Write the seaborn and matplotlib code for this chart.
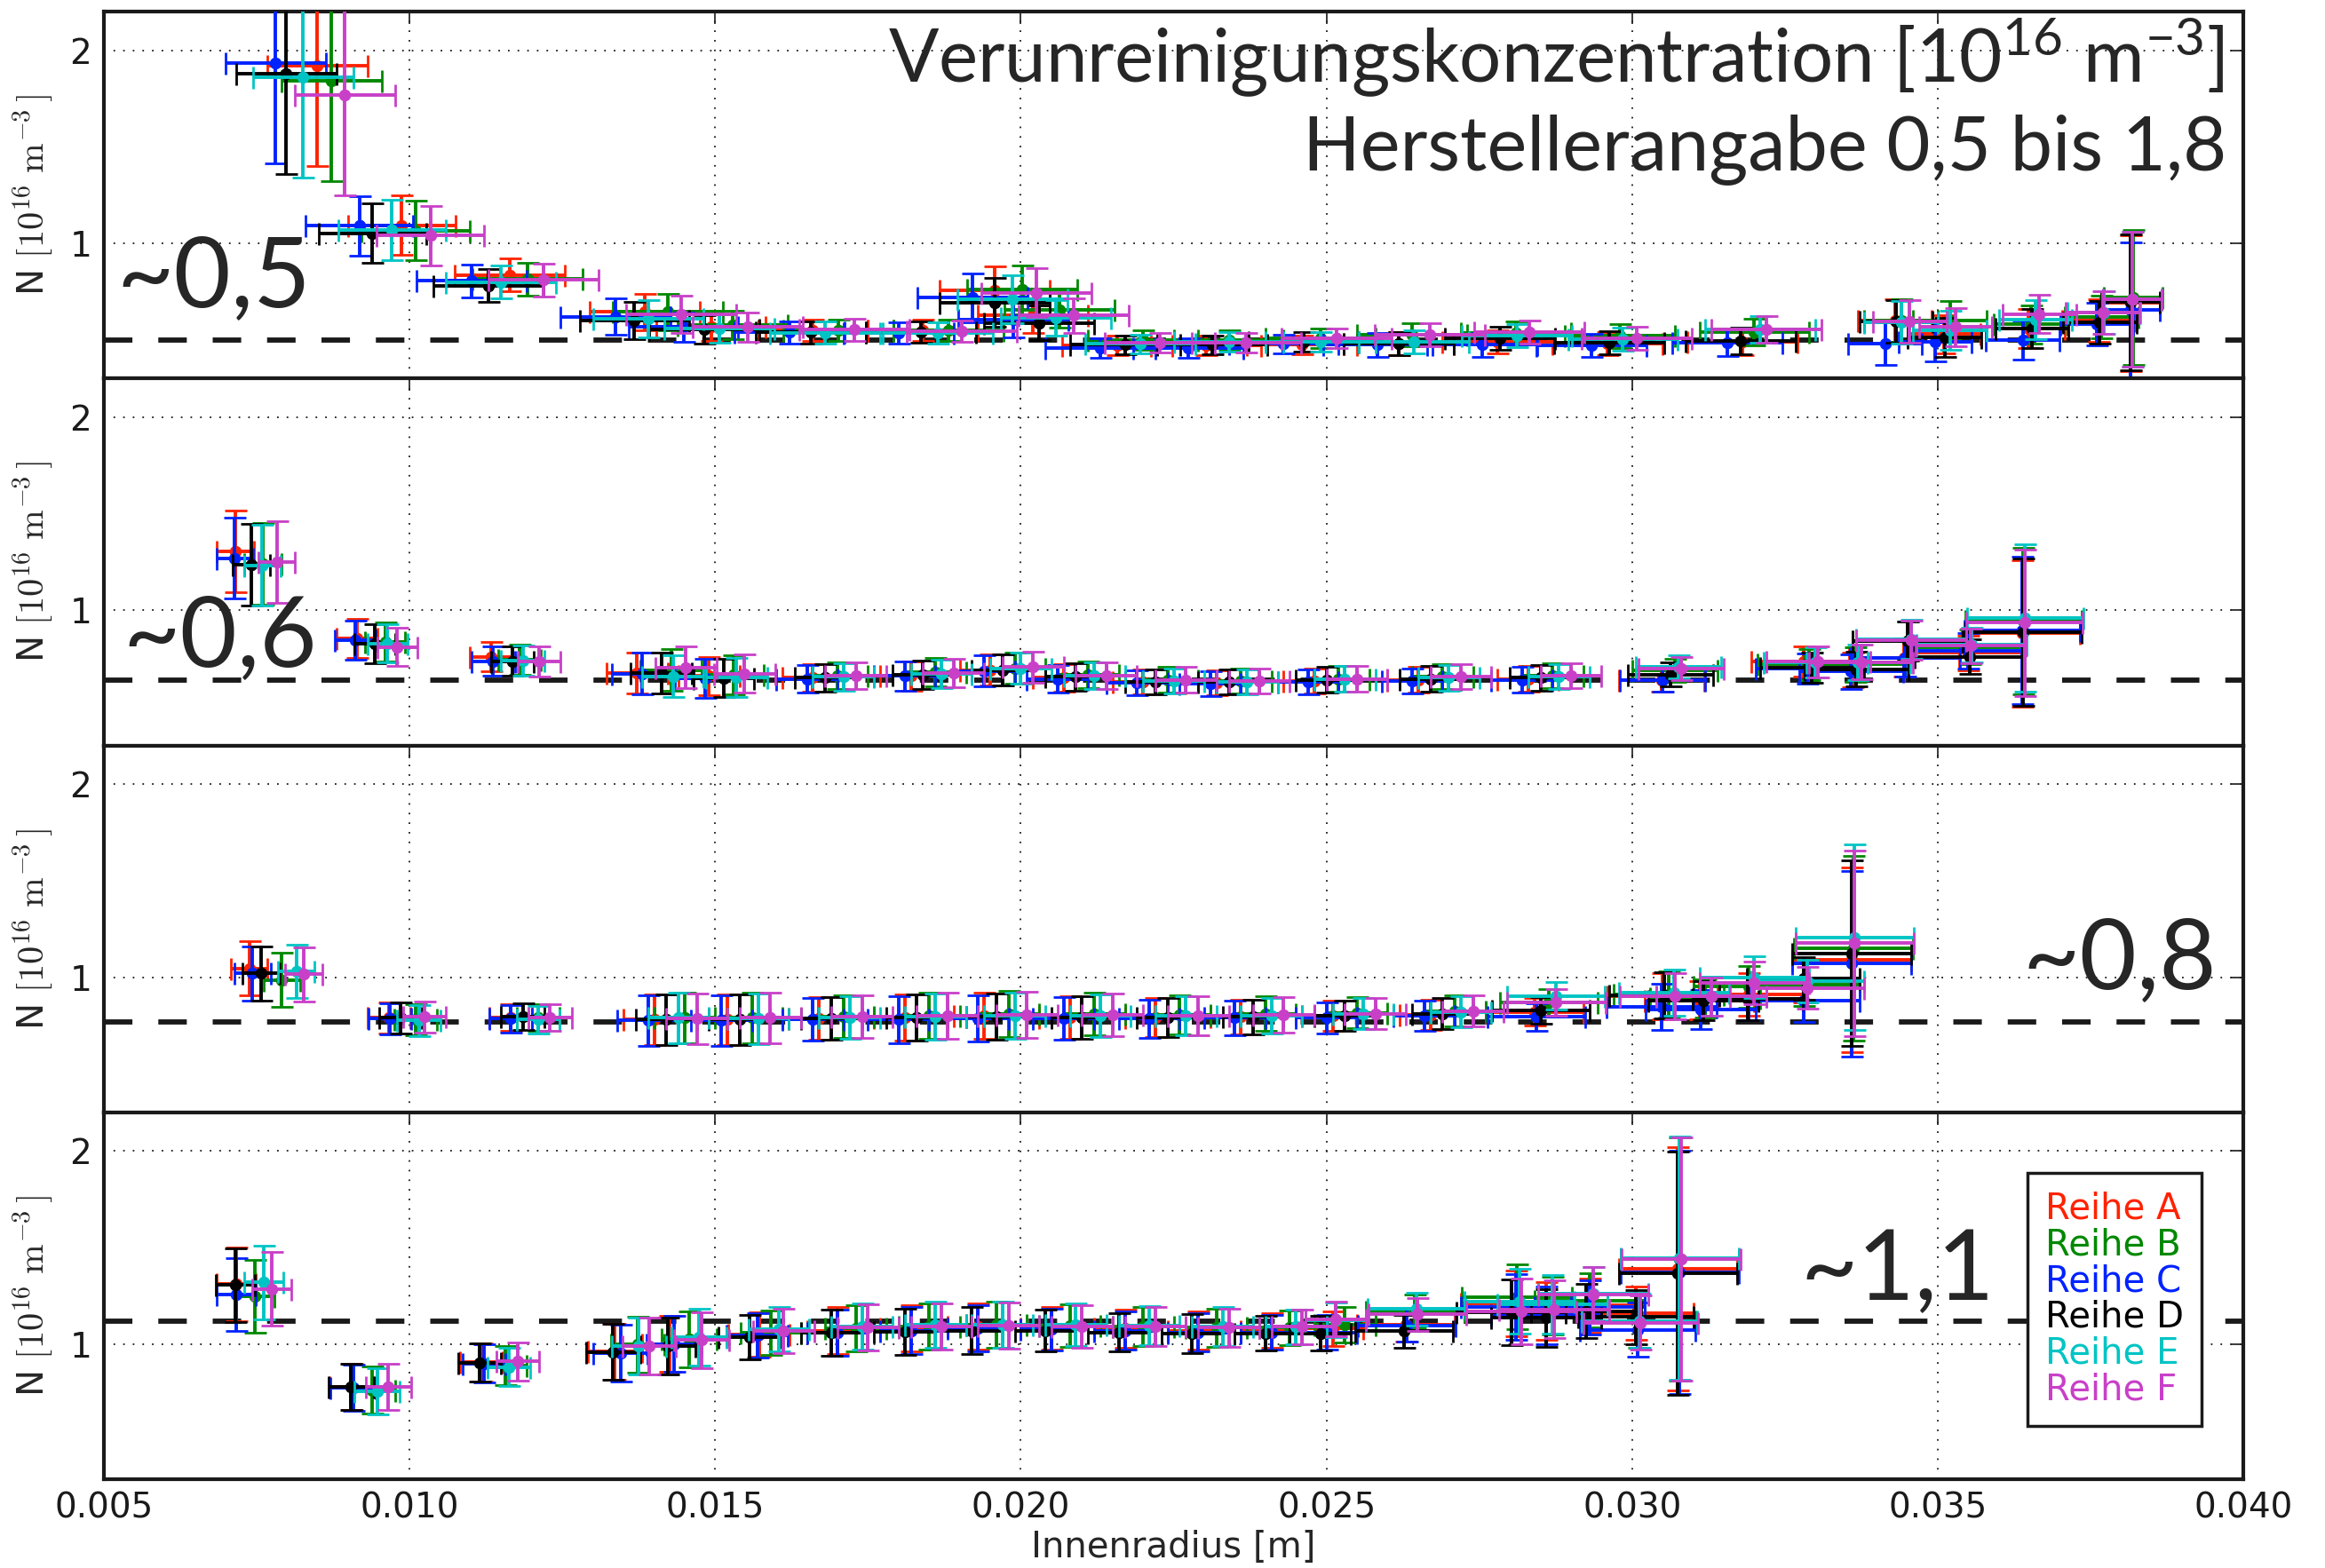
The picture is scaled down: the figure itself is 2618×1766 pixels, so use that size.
import numpy as np
import pandas as pd
import seaborn as sns
import matplotlib
matplotlib.use("Agg")
import matplotlib.pyplot as plt
from matplotlib.lines import Line2D
from matplotlib.ticker import FixedLocator, FormatStrFormatter

# ---------------------------------------------------------------- series
SERIES = ["Reihe A", "Reihe B", "Reihe C", "Reihe D", "Reihe E", "Reihe F"]
COLORS = ["#ff2200", "#008800", "#0022ff", "#000000", "#00c4c4", "#c840c8"]

# reference levels (dashed lines) and their annotations
REF_LEVELS = [0.50, 0.64, 0.77, 1.12]
REF_LABELS = ["~0,5", "~0,6", "~0,8", "~1,1"]

# ---------------------------------------------------------------- panel 1
P1_A_X = [.00849, .00987, .01164, .01385, .01493, .0166, .01839, .01957, .02019, .02158, .02303, .0246, .02618, .0278, .0296, .0318, .0343, .0351, .03648, .03763, .03815]
P1_A_Y = [1.92, 1.094, .837, .645, .57, .55, .55, .756, .626, .47, .47, .474, .48, .49, .48, .49, .60, .53, .56, .60, .69]
P1_B_X = [.00872, .0101, .01193, .01423, .01529, .01702, .01881, .02002, .02063, .022, .0234, .0249, .0264, .0281, .0298, .032, .0344, .0352, .03652, .03768, .0382]
P1_B_Y = [1.84, 1.066, .815, .645, .578, .55, .55, .759, .654, .50, .50, .51, .527, .535, .52, .54, .60, .60, .58, .62, .72]
P1_C_X = [.00781, .00918, .01102, .01337, .01448, .01621, .018, .01921, .01988, .0213, .02274, .0243, .02584, .02755, .02934, .03156, .03414, .03496, .03639, .0376, .03815]
P1_C_Y = [1.935, 1.09, .807, .62, .566, .54, .535, .718, .604, .459, .459, .479, .474, .474, .47, .486, .48, .49, .50, .58, .657]
P1_D_X = [.00798, .00939, .01129, .01368, .01482, .01657, .01836, .01957, .0203, .02171, .02313, .02463, .02618, .02784, .02962, .03177, .03432, .03511, .03654, .03765, .03815]
P1_D_Y = [1.88, 1.053, .78, .60, .553, .54, .54, .694, .588, .474, .474, .489, .479, .509, .485, .494, .596, .512, .558, .59, .695]
P1_E_X = [.00826, .00971, .0115, .0139, .01507, .0168, .01864, .01986, .02057, .02196, .0234, .0249, .02643, .02811, .02985, .03209, .0344, .0352, .0366, .03772, .03818]
P1_E_Y = [1.86, 1.07, .80, .61, .56, .538, .538, .71, .614, .479, .489, .49, .489, .524, .504, .555, .59, .55, .604, .64, .71]
P1_F_X = [.00894, .01034, .01219, .01444, .01553, .01728, .01903, .02025, .02087, .02227, .02369, .02517, .02669, .02832, .03007, .0322, .03454, .03529, .03666, .0377, .03818]
P1_F_Y = [1.77, 1.04, .81, .632, .566, .553, .543, .745, .626, .486, .485, .509, .527, .54, .509, .555, .596, .566, .634, .64, .71]
P1_XERR = [.00082, .00088, .0009, .0009, .0009, .0009, .0009, .0009, .0009, .0009, .0009, .0009, .0009, .0009, .0009, .0009, .0006, .0006, .0006, .0006, .00048]
P1_YERR = [.52, .155, .085, .095, .074, .057, .055, .125, .09, .05, .05, .05, .06, .06, .06, .07, .11, .10, .10, .11, .35]

# ---------------------------------------------------------------- panel 2
P2_A_X = [.00715, .00914, .01133, .01372, .0149, .0166, .0182, .0195, .0207, .0220, .0232, .0248, .0265, .0283, .03048, .0328, .0336, .03445, .0355, .03638]
P2_A_Y = [1.305, .855, .76, .675, .66, .65, .66, .69, .65, .63, .625, .635, .64, .645, .637, .735, .69, .755, .78, .88]
P2_B_X = [.0076, .0096, .0118, .01428, .0153, .0170, .0186, .0199, .0211, .0224, .0236, .0252, .0269, .0287, .0307, .0329, .03365, .0345, .03552, .0364]
P2_B_Y = [1.24, .835, .745, .69, .665, .66, .68, .70, .665, .64, .635, .645, .655, .66, .69, .72, .72, .84, .81, .945]
P2_C_X = [.00714, .00911, .01137, .01381, .01484, .0165, .0181, .0194, .0206, .0219, .0231, .0247, .0264, .0282, .0305, .03287, .03358, .03446, .0355, .03638]
P2_C_Y = [1.27, .844, .737, .672, .647, .645, .66, .685, .645, .625, .62, .63, .635, .64, .64, .698, .683, .755, .79, .895]
P2_D_X = [.00741, .00943, .01168, .01412, .01514, .0168, .0184, .0197, .0209, .0222, .0234, .0250, .0267, .0285, .03063, .03294, .03367, .03451, .03553, .0364]
P2_D_Y = [1.236, .826, .737, .675, .649, .65, .665, .69, .655, .63, .63, .64, .645, .65, .668, .703, .695, .84, .76, .887]
P2_E_X = [.00759, .00964, .01185, .01431, .01535, .0171, .0187, .0200, .0212, .0225, .0237, .0253, .0270, .0288, .03076, .0330, .0337, .03457, .03555, .03643]
P2_E_Y = [1.233, .829, .74, .657, .652, .655, .67, .70, .66, .635, .63, .645, .65, .655, .706, .73, .73, .85, .82, .96]
P2_F_X = [.00783, .0098, .01212, .01452, .01548, .0173, .0189, .0202, .0214, .0227, .0239, .0255, .0272, .0290, .0308, .03304, .03375, .03457, .03554, .03642]
P2_F_Y = [1.25, .81, .734, .703, .672, .66, .675, .705, .66, .64, .635, .645, .655, .66, .698, .734, .732, .844, .817, .936]
P2_XERR = [.0003, .00033, .00035, .0005, .0005, .0005, .0005, .0005, .0005, .0005, .0005, .0005, .0005, .0005, .0007, .00085, .00085, .0009, .0009, .00095]
P2_YERR = [.21, .10, .078, .108, .10, .07, .075, .08, .07, .065, .065, .065, .065, .065, .06, .08, .09, .10, .09, .38]

# ---------------------------------------------------------------- panel 3
P3_A_X = [.00738, .00966, .01165, .0140, .0152, .0167, .0181, .0194, .0208, .0222, .0236, .0251, .0267, .0284, .0305, .0311, .0319, .0328, .03359]
P3_A_Y = [1.046, .79, .79, .78, .78, .785, .79, .80, .79, .79, .795, .80, .805, .82, .90, .88, .91, .98, 1.09]
P3_B_X = [.00791, .0101, .0121, .0145, .0156, .0171, .0185, .0198, .0212, .0226, .0240, .0255, .0271, .02864, .0306, .0312, .0319, .0328, .03362]
P3_B_Y = [.985, .78, .79, .79, .79, .795, .80, .81, .81, .805, .81, .815, .825, .868, .91, .89, .95, .96, 1.15]
P3_C_X = [.00743, .00968, .01165, .0139, .0151, .0166, .0180, .0193, .0207, .0221, .0235, .0250, .0266, .02844, .03048, .03112, .0319, .0328, .03359]
P3_C_Y = [1.02, .785, .785, .775, .775, .78, .78, .785, .785, .785, .79, .79, .80, .794, .848, .833, .886, .879, 1.07]
P3_D_X = [.00757, .00985, .01185, .0142, .0154, .0169, .0183, .0196, .0210, .0224, .0238, .0253, .0269, .02851, .03053, .03116, .03189, .0328, .03359]
P3_D_Y = [1.02, .79, .795, .78, .78, .785, .79, .795, .79, .79, .795, .80, .81, .828, .906, .879, .886, .994, 1.124]
P3_E_X = [.00815, .01015, .0121, .0144, .0157, .0172, .0186, .0199, .0213, .0227, .0241, .0256, .0272, .02875, .03068, .0313, .0320, .03287, .03364]
P3_E_Y = [1.03, .775, .78, .79, .785, .79, .795, .80, .80, .80, .80, .81, .82, .903, .92, .90, 1.0, .98, 1.206]
P3_F_X = [.00827, .01025, .0123, .0147, .0159, .0174, .0188, .0201, .0215, .0229, .0243, .0258, .0274, .02876, .0307, .0313, .0320, .03287, .03364]
P3_F_Y = [1.015, .795, .79, .785, .79, .795, .80, .805, .805, .80, .805, .81, .825, .87, .90, .90, .971, .945, 1.175]
P3_XERR = [.0003, .00035, .00035, .0005, .0005, .0005, .0005, .0005, .0005, .0005, .0005, .0005, .0005, .0008, .0009, .0009, .0009, .00092, .00097]
P3_YERR = [.14, .08, .07, .13, .13, .11, .12, .12, .11, .10, .09, .08, .08, .07, .12, .10, .11, .11, .48]

# ---------------------------------------------------------------- panel 4
P4_A_X = [.00716, .00906, .01118, .01336, .01426, .01572, .0170, .0182, .0193, .0205, .0217, .0229, .0241, .0251, .0263, .0281, .0286, .0293, .03006, .03075]
P4_A_Y = [1.31, .78, .905, .96, 1.0, 1.05, 1.07, 1.08, 1.09, 1.08, 1.08, 1.07, 1.07, 1.08, 1.10, 1.21, 1.17, 1.20, 1.16, 1.39]
P4_B_X = [.00747, .00939, .01156, .01373, .01457, .01591, .0173, .0185, .0196, .0208, .0220, .0232, .0244, .0253, .02645, .02812, .0287, .0293, .0301, .03078]
P4_B_Y = [1.248, .762, .888, .997, 1.025, 1.059, 1.08, 1.09, 1.10, 1.095, 1.09, 1.085, 1.085, 1.10, 1.17, 1.245, 1.20, 1.226, 1.12, 1.44]
P4_C_X = [.00716, .00908, .01122, .01345, .01432, .01569, .0170, .0182, .0193, .0205, .0217, .0229, .0241, .0250, .02631, .0281, .0286, .0293, .03009, .03078]
P4_C_Y = [1.257, .774, .90, .953, 1.0, 1.043, 1.06, 1.07, 1.08, 1.075, 1.07, 1.06, 1.06, 1.06, 1.097, 1.19, 1.15, 1.19, 1.074, 1.37]
P4_D_X = [.00715, .00904, .01114, .01333, .01423, .01556, .0169, .0181, .0192, .0204, .0216, .0228, .0240, .0249, .02627, .02802, .0286, .02925, .03006, .03075]
P4_D_Y = [1.306, .78, .904, .958, .99, 1.036, 1.06, 1.065, 1.07, 1.07, 1.06, 1.055, 1.055, 1.055, 1.067, 1.164, 1.136, 1.17, 1.14, 1.368]
P4_E_X = [.00761, .00947, .01162, .01375, .01473, .01604, .0174, .0186, .0197, .0209, .0221, .0233, .0245, .02515, .02647, .02816, .0287, .02936, .03012, .03078]
P4_E_Y = [1.319, .757, .881, .99, 1.036, 1.077, 1.09, 1.10, 1.10, 1.10, 1.095, 1.09, 1.09, 1.125, 1.182, 1.222, 1.206, 1.26, 1.12, 1.445]
P4_F_X = [.00775, .00965, .01177, .01392, .01478, .01612, .0175, .0187, .0198, .0210, .0222, .0234, .0246, .02515, .02649, .02819, .02872, .02936, .03014, .0308]
P4_F_Y = [1.286, .777, .91, .99, 1.02, 1.07, 1.085, 1.09, 1.095, 1.09, 1.09, 1.085, 1.09, 1.129, 1.155, 1.17, 1.18, 1.257, 1.11, 1.441]
P4_XERR = [.00032, .00037, .00035, .00044, .00045, .0005, .0005, .0005, .0005, .0005, .0005, .0005, .0005, .0005, .0008, .0009, .0009, .0009, .00094, .00097]
P4_YERR = [.19, .12, .10, .145, .145, .115, .12, .12, .12, .11, .10, .10, .09, .09, .085, .17, .15, .14, .14, .63]

PANELS = [
    ([P1_A_X, P1_B_X, P1_C_X, P1_D_X, P1_E_X, P1_F_X],
     [P1_A_Y, P1_B_Y, P1_C_Y, P1_D_Y, P1_E_Y, P1_F_Y], P1_XERR, P1_YERR),
    ([P2_A_X, P2_B_X, P2_C_X, P2_D_X, P2_E_X, P2_F_X],
     [P2_A_Y, P2_B_Y, P2_C_Y, P2_D_Y, P2_E_Y, P2_F_Y], P2_XERR, P2_YERR),
    ([P3_A_X, P3_B_X, P3_C_X, P3_D_X, P3_E_X, P3_F_X],
     [P3_A_Y, P3_B_Y, P3_C_Y, P3_D_Y, P3_E_Y, P3_F_Y], P3_XERR, P3_YERR),
    ([P4_A_X, P4_B_X, P4_C_X, P4_D_X, P4_E_X, P4_F_X],
     [P4_A_Y, P4_B_Y, P4_C_Y, P4_D_Y, P4_E_Y, P4_F_Y], P4_XERR, P4_YERR),
]

X_TICKS = [0.005, 0.010, 0.015, 0.020, 0.025, 0.030, 0.035, 0.040]
Y_TICKS = [1, 2]

# ---------------------------------------------------------------- style
sns.set_theme(style="white")
plt.rcParams["font.family"] = ["DejaVu Sans"]
# math in the headline uses the headline font; the axis label uses Computer Modern
plt.rcParams["mathtext.fontset"] = "custom"
plt.rcParams["mathtext.rm"] = "Lato"
plt.rcParams["mathtext.it"] = "Lato:italic"
plt.rcParams["mathtext.bf"] = "Lato:bold"
BIG_FONT = ["Lato", "DejaVu Sans"]

fig = plt.figure(figsize=(26.18, 17.66), dpi=100)
axes = fig.subplots(4, 1, sharex=True)
fig.subplots_adjust(left=0.0447, right=0.9649, top=0.9926, bottom=0.0566, hspace=0)

for p, (ax, (xs, ys, xerr, yerr)) in enumerate(zip(axes, PANELS)):
    for i, (name, col) in enumerate(zip(SERIES, COLORS)):
        z = 3 + i * 0.1
        ax.errorbar(xs[i], ys[i], xerr=xerr, yerr=yerr, fmt="none",
                    ecolor=col, elinewidth=2.8, capsize=9, capthick=2.0,
                    zorder=z)
        df = pd.DataFrame({"x": xs[i], "y": ys[i]})
        sns.scatterplot(data=df, x="x", y="y", color=col, s=95,
                        linewidth=0, ax=ax, zorder=z + 0.05, legend=False)
    ax.axhline(REF_LEVELS[p], color="k", lw=4.2, dashes=(5.5, 5.0), zorder=2)

    ax.set_xlim(0.005, 0.040)
    ax.set_ylim(0.3, 2.2)
    ax.xaxis.set_major_locator(FixedLocator(X_TICKS))
    ax.xaxis.set_major_formatter(FormatStrFormatter("%.3f"))
    ax.yaxis.set_major_locator(FixedLocator(Y_TICKS))
    ax.grid(True, which="major", linestyle=(0, (1, 5)), color="k", lw=1.3)
    ax.tick_params(axis="both", direction="in", length=10, width=1.2,
                   labelsize=28, colors="k", top=True, right=True, pad=10)
    for s in ax.spines.values():
        s.set_color("k")
        s.set_linewidth(3)
    ax.set_ylabel(r"N $[10^{16}\ \mathrm{m}^{-3}\,]$", fontsize=29,
                  labelpad=12, math_fontfamily="cm")
    ax.set_xlabel("")

axes[-1].set_xlabel("Innenradius [m]", fontsize=29, labelpad=4)

# headline in the top panel
axes[0].text(0.991, 0.875, r"Verunreinigungskonzentration [10$^{\mathrm{16}}$ m$^{\mathrm{-3}}$]",
             transform=axes[0].transAxes, ha="right", va="center",
             fontsize=60, family=BIG_FONT, zorder=10)
axes[0].text(0.992, 0.625, "Herstellerangabe 0,5 bis 1,8",
             transform=axes[0].transAxes, ha="right", va="center",
             fontsize=61, family=BIG_FONT, zorder=10)

# level annotations
LABEL_POS = [(0.006, 0.27, "left"), (0.009, 0.29, "left"),
             (0.9875, 0.41, "right"), (0.8836, 0.565, "right")]
for ax, txt, (lx, ly, ha) in zip(axes, REF_LABELS, LABEL_POS):
    ax.text(lx, ly, txt, transform=ax.transAxes, ha=ha, va="center",
            fontsize=80, family=BIG_FONT, zorder=10)

# text-only legend in the bottom panel
handles = [Line2D([], [], linestyle="none", marker=None) for _ in SERIES]
leg = axes[-1].legend(handles, SERIES, loc="upper right",
                      bbox_to_anchor=(0.9806, 0.834), fontsize=29,
                      handlelength=0, handletextpad=0, labelspacing=0.02,
                      borderpad=0.5, borderaxespad=0, frameon=True,
                      fancybox=False, framealpha=1.0)
leg.get_frame().set_edgecolor("k")
leg.get_frame().set_facecolor("white")
leg.get_frame().set_linewidth(2.5)
for t, c in zip(leg.get_texts(), COLORS):
    t.set_color(c)
leg.set_zorder(20)

fig.savefig("out.png", dpi=100, facecolor="white")
